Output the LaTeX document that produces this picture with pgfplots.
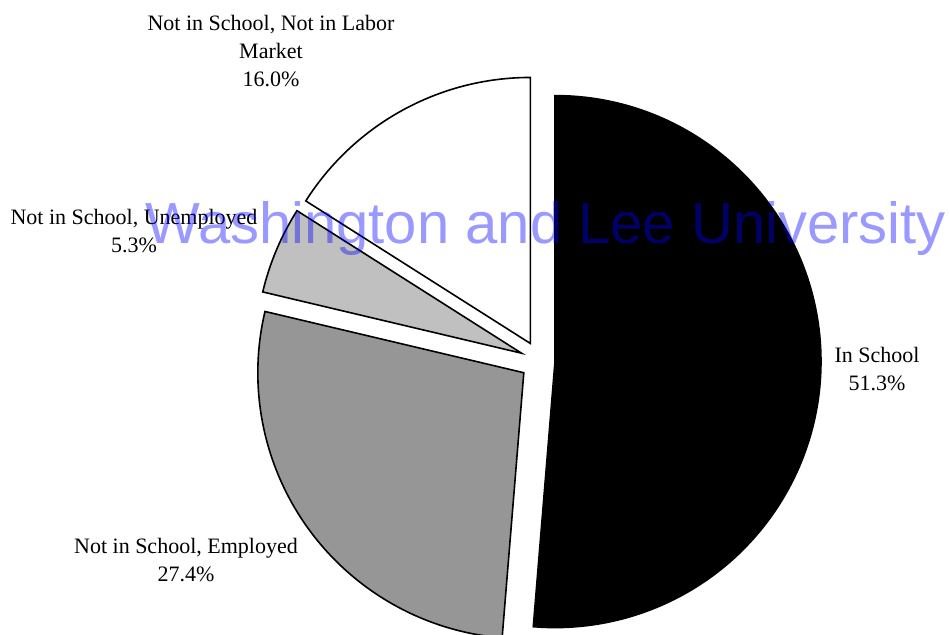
\documentclass[border=0pt]{standalone}
\usepackage{pgfplots}
\usepackage{pgfplotstable}
\pgfplotsset{compat=1.18}
\usetikzlibrary{calc}
\usepackage{fontspec}
\setmainfont{Liberation Serif}
\newfontfamily\wmfont{Liberation Sans}
\definecolor{slicedark}{RGB}{150,150,150}
\definecolor{slicelight}{RGB}{192,192,192}
\pgfplotstableread{
value explode col
51.3 15 black
27.4 20 slicedark
5.3 20 slicelight
16.0 20 white
}\pietable
\begin{document}
\begin{tikzpicture}
\begin{axis}[hide axis, scale only axis, width=475pt, height=317.5pt,
  xmin=0, xmax=950, ymin=0, ymax=635, clip=false]
\coordinate (BL) at (axis cs:0,0);
\coordinate (TR) at (axis cs:950,635);
\pgfplotsextra{
  \gdef\curang{90}
  \foreach \i in {0,...,3}{
    \pgfplotstablegetelem{\i}{value}\of\pietable \edef\v{\pgfplotsretval}
    \pgfplotstablegetelem{\i}{explode}\of\pietable \edef\d{\pgfplotsretval}
    \pgfplotstablegetelem{\i}{col}\of\pietable \edef\c{\pgfplotsretval}
    \pgfmathsetmacro{\endang}{\curang-3.6*\v}
    \pgfmathsetmacro{\midang}{(\curang+\endang)/2}
    \filldraw[fill=\c, draw=black, line width=0.8pt, line join=miter]
      ($(axis cs:540,274)+(\midang:{\d*0.5pt})$) -- ++(\curang:133pt)
      arc[start angle=\curang, end angle=\endang, radius=133pt] -- cycle;
    \xdef\curang{\endang}
  }
}
\node[align=center, font=\fontsize{11}{14}\selectfont] at (axis cs:271,584) {Not in School, Not in Labor\\Market\\16.0\%};
\node[align=center, font=\fontsize{11}{14}\selectfont] at (axis cs:134,403.5) {Not in School, Unemployed\\5.3\%};
\node[align=center, font=\fontsize{11}{14}\selectfont] at (axis cs:186,74.5) {Not in School, Employed\\27.4\%};
\node[align=center, font=\fontsize{11}{14}\selectfont] at (axis cs:877,266) {In School\\51.3\%};
\node[anchor=base west, inner sep=0pt, text=blue, text opacity=0.4, font=\wmfont\fontsize{29}{34}\selectfont] at (axis cs:145,391) {Washington and Lee University};
\end{axis}
\pgfresetboundingbox
\path (BL) rectangle (TR);
\end{tikzpicture}
\end{document}
